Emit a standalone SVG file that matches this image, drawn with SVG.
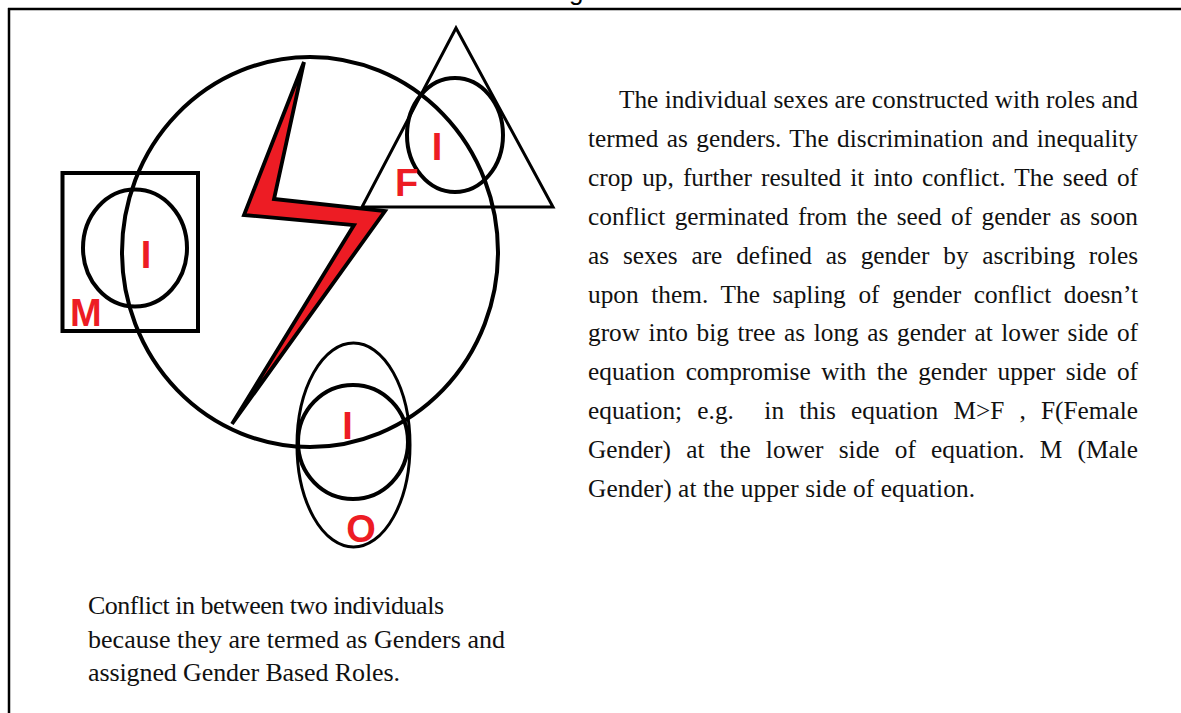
<svg xmlns="http://www.w3.org/2000/svg" width="1181" height="713" viewBox="0 0 1181 713">
<style>
.ln{fill:none;stroke:#000;stroke-width:4}
.thin{fill:none;stroke:#000;stroke-width:3}
.lbl{font-family:"Liberation Sans",Arial,sans-serif;font-weight:bold;font-size:38px;fill:#ed1c24}
.body{font-family:"Liberation Serif","Times New Roman",serif;font-size:25.3px;fill:#111}
.cap{font-family:"Liberation Serif","Times New Roman",serif;font-size:26px;fill:#111}
</style>
<rect width="1181" height="713" fill="#fff"/>
<g id="frame">
<line x1="8" y1="9" x2="1181" y2="9" stroke="#000" stroke-width="2.5"/>
<line x1="9" y1="8" x2="9" y2="713" stroke="#000" stroke-width="2.5"/>
<text x="569" y="0" font-family="Liberation Sans,Arial,sans-serif" font-size="26" fill="#000">g</text>
</g>
<g id="node-society">
<ellipse class="ln" cx="310" cy="252" rx="188" ry="195"/>
</g>
<g id="node-M">
<rect class="ln" x="62.5" y="173" width="135.5" height="158"/>
<ellipse class="ln" cx="135" cy="248" rx="52" ry="58.5"/>
<text class="lbl" x="146" y="268" text-anchor="middle">I</text>
<text class="lbl" x="70" y="326" font-size="39">M</text>
</g>
<g id="node-F">
<polygon class="thin" points="456,28 362,207 553,207"/>
<ellipse class="ln" cx="455" cy="135" rx="48" ry="57"/>
<text class="lbl" x="437" y="160" text-anchor="middle">I</text>
<text class="lbl" x="395" y="196">F</text>
</g>
<g id="node-O">
<ellipse class="thin" cx="353.5" cy="445" rx="56.5" ry="102"/>
<ellipse class="ln" cx="353" cy="442" rx="55" ry="57"/>
<text class="lbl" x="347.5" y="439" text-anchor="middle">I</text>
<text class="lbl" x="361" y="542" text-anchor="middle">O</text>
</g>
<g id="connectors">
<polygon id="conflict-bolt" points="304,62 244,215 354,225 232,424 385,211 274,199" fill="#ed1c24" stroke="#000" stroke-width="3.8" stroke-linejoin="miter" stroke-miterlimit="6"/>
</g>
<g id="text-explanation" class="body">
<text x="619" y="108" textLength="519" lengthAdjust="spacing">The individual sexes are constructed with roles and</text>
<text x="588" y="146.9" word-spacing="2.1" textLength="550" lengthAdjust="spacing">termed as genders. The discrimination and inequality</text>
<text x="588" y="185.8" word-spacing="2.8" textLength="550" lengthAdjust="spacing">crop up, further resulted it into conflict. The seed of</text>
<text x="588" y="224.7" word-spacing="3" textLength="550" lengthAdjust="spacing">conflict germinated from the seed of gender as soon</text>
<text x="588" y="263.6" word-spacing="7.5" textLength="550" lengthAdjust="spacing">as sexes are defined as gender by ascribing roles</text>
<text x="588" y="302.5" word-spacing="6.3" textLength="550" lengthAdjust="spacing">upon them. The sapling of gender conflict doesn’t</text>
<text x="588" y="341.4" word-spacing="2.3" textLength="550" lengthAdjust="spacing">grow into big tree as long as gender at lower side of</text>
<text x="588" y="380.3" word-spacing="4.2" textLength="550" lengthAdjust="spacing">equation compromise with the gender upper side of</text>
<text x="588" y="419.2" word-spacing="8.9" textLength="550" lengthAdjust="spacing" xml:space="preserve">equation; e.g.  in this equation M&gt;F , F(Female</text>
<text x="588" y="458.1" word-spacing="8.9" textLength="550" lengthAdjust="spacing">Gender) at the lower side of equation. M (Male</text>
<text x="588" y="497" textLength="387" lengthAdjust="spacing">Gender) at the upper side of equation.</text>
</g>
<g id="text-caption" class="cap">
<text x="88" y="614" textLength="356" lengthAdjust="spacing">Conflict in between two individuals</text>
<text x="88" y="648" textLength="417" lengthAdjust="spacing">because they are termed as Genders and</text>
<text x="88" y="681" textLength="312" lengthAdjust="spacing">assigned Gender Based Roles.</text>
</g>
</svg>
